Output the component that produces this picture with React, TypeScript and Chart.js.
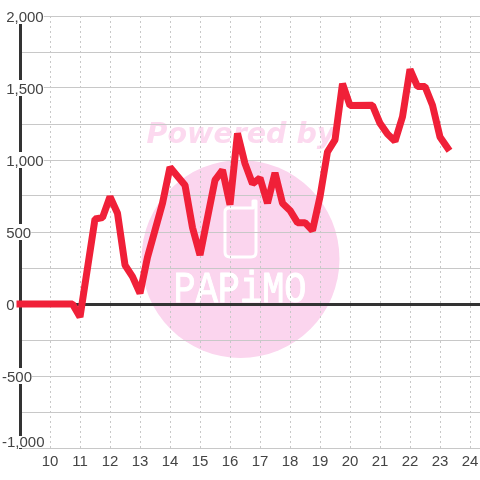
import React, { useEffect, useRef } from "react";
import { Chart, registerables } from "chart.js";

Chart.register(...registerables);

const hours = [9, 10.75, 11, 11.5, 11.75, 12, 12.25, 12.5, 12.75, 13, 13.25, 13.75, 14, 14.5, 14.75, 15, 15.5, 15.75, 16, 16.25, 16.5, 16.75, 17, 17.25, 17.5, 17.75, 18, 18.25, 18.5, 18.75, 19, 19.25, 19.5, 19.75, 20, 20.75, 21, 21.25, 21.5, 21.75, 22, 22.25, 22.5, 22.75, 23, 23.25];
const values = [0, 0, -90, 590, 600, 745, 630, 270, 190, 75, 325, 700, 950, 825, 530, 340, 860, 930, 690, 1185, 975, 835, 875, 700, 910, 700, 650, 565, 565, 510, 745, 1057, 1140, 1530, 1378, 1380, 1255, 1180, 1130, 1300, 1630, 1510, 1510, 1380, 1160, 1085];
const yTickLabels: Record<number, string> = {
  2000: "2,000",
  1500: "1,500",
  1000: "1,000",
  500: "500",
  0: "0",
  [-500]: "-500",
  [-1000]: "-1,000",
};
const watermarkTop = "Powered by";
const watermarkBrand = "PAPiMO";

const textColor = "#444444";
const gridColor = "#c8c8c8";
const axisColor = "#333333";
const lineColor = "#f02038";
const pink = "#fbd5ee";

const watermark = {
  id: "watermark",
  beforeDraw(chart: any) {
    const ctx = chart.ctx;
    ctx.save();
    ctx.fillStyle = pink;
    ctx.beginPath();
    ctx.arc(240.5, 259, 99, 0, Math.PI * 2);
    ctx.fill();

    ctx.fillStyle = "#fcd9ef";
    ctx.font = "italic bold 28.5px 'DejaVu Sans'";
    ctx.textAlign = "center";
    ctx.textBaseline = "middle";
    ctx.fillText(watermarkTop, 241, 136);

    ctx.strokeStyle = "#ffffff";
    ctx.lineWidth = 3;
    ctx.lineJoin = "round";
    ctx.beginPath();
    ctx.moveTo(229, 208);
    ctx.lineTo(253, 208);
    ctx.lineTo(253, 201);
    ctx.lineTo(256, 201);
    ctx.lineTo(256, 252);
    ctx.quadraticCurveTo(256, 257, 251, 257);
    ctx.lineTo(230, 257);
    ctx.quadraticCurveTo(225, 257, 225, 252);
    ctx.lineTo(225, 212);
    ctx.quadraticCurveTo(225, 208, 229, 208);
    ctx.stroke();

    ctx.save();
    ctx.translate(240, 290);
    ctx.scale(0.84, 1);
    ctx.fillStyle = "#ffffff";
    ctx.strokeStyle = "#ffffff";
    ctx.lineWidth = 1;
    ctx.font = "44px 'Liberation Mono'";
    ctx.fillText(watermarkBrand, 0, 0);
    ctx.strokeText(watermarkBrand, 0, 0);
    ctx.restore();
    ctx.restore();
  },
};

export default function App() {
  const ref = useRef<HTMLCanvasElement>(null);
  useEffect(() => {
    const chart = new Chart(ref.current!, {
      type: "line",
      data: {
        datasets: [
          {
            data: hours.map((h, i) => ({ x: h, y: values[i] })),
            borderColor: lineColor,
            borderWidth: 7,
            borderCapStyle: "square",
            borderJoinStyle: "bevel",
            pointRadius: 0,
            tension: 0,
            clip: false,
          },
        ],
      },
      plugins: [watermark],
      options: {
        responsive: false,
        animation: false,
        layout: { padding: { left: 20, top: 16, right: 0, bottom: 0 } },
        plugins: { legend: { display: false }, tooltip: { enabled: false }, title: { display: false } },
        scales: {
          x: {
            type: "linear",
            min: 9,
            max: 24.3333,
            afterBuildTicks: (s: any) => {
              s.ticks = s.ticks.filter((t: any) => t.value >= 10 && t.value <= 24);
            },
            afterFit: (s: any) => {
              s.height = 32;
              s.paddingLeft = 0;
              s.paddingRight = 0;
            },
            grid: { color: gridColor, lineWidth: 1, drawTicks: false },
            border: { display: false, dash: [2, 3] },
            ticks: {
              stepSize: 1,
              autoSkip: false,
              maxRotation: 0,
              includeBounds: false,
              padding: 5,
              color: textColor,
              font: { family: "'Liberation Sans'", size: 15 },
              callback: (v: any) => String(v),
            },
          },
          y: {
            min: -1000,
            max: 2000,
            afterFit: (s: any) => {
              s.width = 0;
              s.paddingTop = 0;
              s.paddingBottom = 0;
            },
            afterUpdate: (s: any) => {
              // Labels sit slightly below their grid lines, the bottom one above its line.
              const base = Object.getPrototypeOf(s).getLabelItems;
              s.getLabelItems = function (area: any) {
                const items = base.call(this, area);
                for (const item of items) {
                  if (item.shifted) continue;
                  item.shifted = true;
                  const backdrop = item.options.backdrop;
                  if (item.label === yTickLabels[-1000]) {
                    item.options.translation[1] -= 5;
                    if (backdrop) {
                      backdrop.top = -7;
                      backdrop.height = 12;
                    }
                  } else {
                    item.options.translation[1] += 2;
                    if (backdrop) backdrop.top -= 2;
                  }
                }
                return items;
              };
            },
            grid: {
              color: (c: any) => (c.tick && c.tick.value === 0 ? axisColor : gridColor),
              lineWidth: (c: any) => (c.tick && c.tick.value === 0 ? 3 : 1),
              drawTicks: false,
            },
            border: { display: true, color: axisColor, width: 3 },
            ticks: {
              stepSize: 250,
              autoSkip: false,
              mirror: true,
              crossAlign: "near",
              padding: -18,
              color: textColor,
              showLabelBackdrop: true,
              backdropColor: "#ffffff",
              backdropPadding: 0,
              font: { family: "'Liberation Sans'", size: 15, lineHeight: 16 / 15 },
              callback: (v: any) => {
                const t = yTickLabels[v];
                if (t === undefined) return "";
                return v < 0 ? t : " " + t;
              },
            },
          },
        },
      },
    } as any);
    return () => chart.destroy();
  }, []);
  return (
    <div style={{ position: "fixed", left: 0, top: 0, width: 480, height: 480 }}>
      <canvas ref={ref} width={480} height={480} style={{ display: "block" }} />
    </div>
  );
}
